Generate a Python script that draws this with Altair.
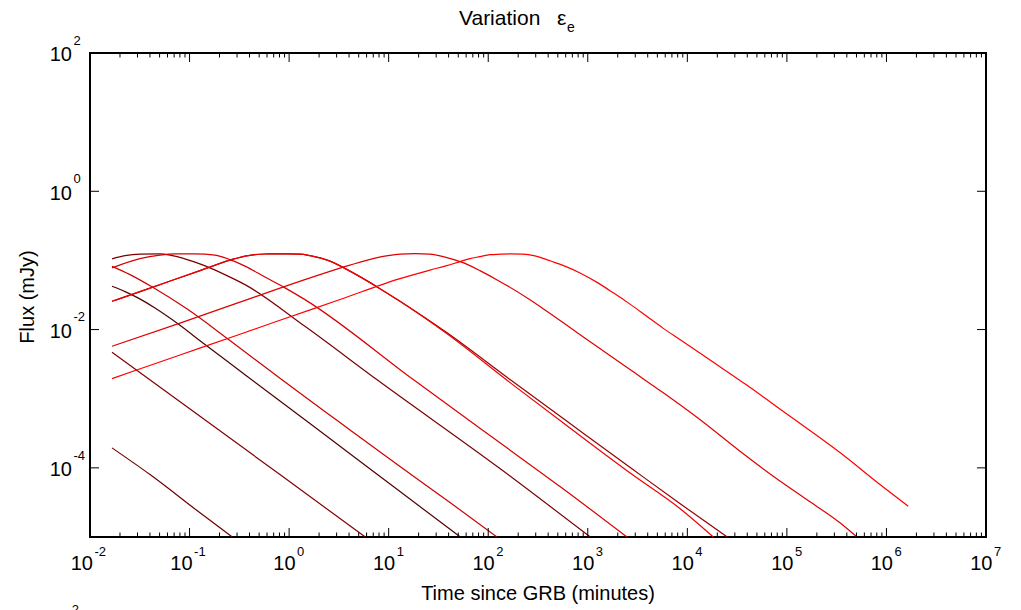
import altair as alt
import pandas as pd

# ---- curve data (log10 of time in minutes, log10 of flux in mJy)
curve_names = ["D448", "D353", "D287", "D267", "P1a", "P1b", "P2a", "P2b", "R3", "R4"]
curve_colors = ["#6e0000", "#820000", "#4f0000", "#cc0000", "#7a0000", "#d80000",
                "#990000", "#f00000", "#e00000", "#ff0000"]

lt_D448 = [-1.779, -1.397, -0.895, -0.574]
lf_D448 = [-3.711, -4.097, -4.650, -4.997]

lt_D353 = [-1.779, -0.895, -0.092, 0.762]
lf_D353 = [-2.328, -3.254, -4.097, -4.997]

lt_D287 = [-1.779, -1.648, -1.518, -1.347, -1.176, -0.845, -0.443, 0.109, 0.611, 1.114, 1.716]
lf_D287 = [-1.374, -1.451, -1.542, -1.689, -1.856, -2.215, -2.652, -3.251, -3.796, -4.342, -4.997]

lt_D267 = [-1.779, -1.598, -1.387, -1.016, -0.594, -0.075, 0.511, 1.114, 1.616, 2.085]
lf_D267 = [-1.085, -1.205, -1.374, -1.711, -2.159, -2.723, -3.345, -3.981, -4.501, -4.997]

lt_P1a = [-1.779, -1.648, -1.498, -1.297, -1.196, -1.079, -0.945, -0.778, -0.614, -0.443,
          0.159, 0.880, 2.118, 3.022]
lf_P1a = [-0.978, -0.931, -0.909, -0.906, -0.923, -0.964, -1.025, -1.118, -1.227, -1.350,
          -1.953, -2.723, -4.010, -4.997]

lt_P1b = [-1.779, -1.498, -1.297, -1.146, -0.945, -0.744, -0.594, -0.443, -0.242, -0.041, 0.159,
          1.247, 2.118, 2.721, 3.391]
lf_P1b = [-1.108, -0.974, -0.923, -0.906, -0.906, -0.923, -0.988, -1.082, -1.241, -1.397, -1.567,
          -2.723, -3.638, -4.270, -4.997]

lt_P2a = [-1.779, -1.397, -0.895, -0.544, -0.443, -0.343, -0.242, -0.142, -0.011, 0.109, 0.210,
          0.411, 0.611, 0.913, 1.114, 1.583, 2.219, 2.788, 3.454, 3.925, 4.398]
lf_P2a = [-1.591, -1.400, -1.147, -0.974, -0.938, -0.916, -0.907, -0.906, -0.906, -0.909, -0.931,
          -1.010, -1.155, -1.408, -1.591, -2.044, -2.723, -3.323, -4.024, -4.516, -4.997]

lt_P2b = [-1.779, -1.397, -0.895, -0.544, -0.443, -0.343, -0.242, -0.142, -0.011, 0.109, 0.210,
          0.411, 0.611, 0.913, 1.114, 1.583, 2.219, 2.788, 3.454, 3.925, 4.258]
lf_P2b = [-1.591, -1.400, -1.147, -0.974, -0.938, -0.916, -0.907, -0.906, -0.906, -0.909, -0.931,
          -1.010, -1.155, -1.408, -1.591, -2.058, -2.767, -3.388, -4.104, -4.588, -4.997]

lt_R3 = [-1.779, -1.096, -0.493, -0.092, 0.310, 0.611, 0.863, 0.993, 1.114, 1.264, 1.415, 1.566,
         1.746, 1.917, 2.085, 2.419, 2.751, 3.089, 3.424, 3.755, 4.126, 4.529, 4.863, 5.199,
         5.533, 5.701]
lf_R3 = [-2.242, -1.906, -1.603, -1.400, -1.205, -1.068, -0.967, -0.931, -0.909, -0.902, -0.909,
         -0.952, -1.032, -1.147, -1.278, -1.567, -1.899, -2.242, -2.579, -2.911, -3.301, -3.760,
         -4.121, -4.458, -4.795, -4.997]

lt_R4 = [-1.779, -1.096, -0.493, -0.092, 0.511, 1.114, 1.415, 1.583, 1.716, 1.817, 1.917, 2.018,
         2.118, 2.219, 2.349, 2.469, 2.587, 2.751, 2.922, 3.089, 3.253, 3.424, 3.592, 3.755,
         3.925, 4.258, 4.596, 5.014, 5.533, 5.935, 6.219]
lf_R4 = [-2.709, -2.368, -2.067, -1.866, -1.565, -1.263, -1.140, -1.075, -1.017, -0.974, -0.945,
         -0.916, -0.910, -0.906, -0.909, -0.935, -0.988, -1.072, -1.181, -1.314, -1.465, -1.632,
         -1.808, -1.979, -2.145, -2.470, -2.803, -3.236, -3.779, -4.241, -4.555]

curve_t = [lt_D448, lt_D353, lt_D287, lt_D267, lt_P1a, lt_P1b, lt_P2a, lt_P2b, lt_R3, lt_R4]
curve_f = [lf_D448, lf_D353, lf_D287, lf_D267, lf_P1a, lf_P1b, lf_P2a, lf_P2b, lf_R3, lf_R4]

# ---- axis ticks and labels
x_major = [-2, -1, 0, 1, 2, 3, 4, 5, 6, 7]
x_minor_mult = [2, 3, 4, 5, 6, 7, 8, 9]
y_major = [-4, -2, 0, 2]

title_word = "Variation"
title_greek = "\u03b5"
title_sub = "e"
x_title = "Time since GRB (minutes)"
y_title = "Flux (mJy)"

FONT = "Liberation Sans"
W, H = 896, 484

rows = []
for name, ts, fs in zip(curve_names, curve_t, curve_f):
    for i, (a, b) in enumerate(zip(ts, fs)):
        rows.append({"curve": name, "i": i, "t": 10 ** a, "F": 10 ** b})
df = pd.DataFrame(rows)

xs = alt.Scale(type="log", domain=[1e-2, 1e7])
ys = alt.Scale(type="log", domain=[1e-5, 1e2])

lines = alt.Chart(df).mark_line(strokeWidth=1.2, clip=True, interpolate="monotone").encode(
    x=alt.X("t:Q", scale=xs, axis=None),
    y=alt.Y("F:Q", scale=ys, axis=None),
    color=alt.Color("curve:N", scale=alt.Scale(domain=curve_names, range=curve_colors), legend=None),
    detail="curve:N",
    order="i:Q",
)

xmaj_df = pd.DataFrame({"v": [10.0 ** e for e in x_major]})
xmin_df = pd.DataFrame({"v": [m * 10.0 ** e for e in x_major[:-1] for m in x_minor_mult]})
ymaj_df = pd.DataFrame({"v": [10.0 ** e for e in y_major]})

tick_layers = []
for d, ln in [(xmaj_df, 9), (xmin_df, 4.5)]:
    tick_layers.append(alt.Chart(d).mark_rule(color="black", strokeWidth=1).encode(
        x=alt.X("v:Q", scale=xs, axis=None), y=alt.value(H), y2=alt.value(H - ln)))
    tick_layers.append(alt.Chart(d).mark_rule(color="black", strokeWidth=1).encode(
        x=alt.X("v:Q", scale=xs, axis=None), y=alt.value(0), y2=alt.value(ln)))
tick_layers.append(alt.Chart(ymaj_df).mark_rule(color="black", strokeWidth=1).encode(
    y=alt.Y("v:Q", scale=ys, axis=None), x=alt.value(0), x2=alt.value(9)))
tick_layers.append(alt.Chart(ymaj_df).mark_rule(color="black", strokeWidth=1).encode(
    y=alt.Y("v:Q", scale=ys, axis=None), x=alt.value(W), x2=alt.value(W - 9)))

# x labels
xl_neg = pd.DataFrame({"v": [10.0 ** e for e in x_major if e < 0],
                       "e": [str(e) for e in x_major if e < 0]})
xl_pos = pd.DataFrame({"v": [10.0 ** e for e in x_major if e >= 0],
                       "e": [str(e) for e in x_major if e >= 0]})
label_layers = []
for d, dx10 in [(xl_neg, 3), (xl_pos, 6.5)]:
    label_layers.append(alt.Chart(d).mark_text(
        text="10", font=FONT, fontSize=20, align="right", baseline="alphabetic",
        dx=dx10, dy=33).encode(x=alt.X("v:Q", scale=xs, axis=None), y=alt.value(H)))
    label_layers.append(alt.Chart(d).mark_text(
        font=FONT, fontSize=13, align="left", baseline="alphabetic",
        dx=dx10 + 1.5, dy=19).encode(x=alt.X("v:Q", scale=xs, axis=None), y=alt.value(H),
                                     text="e:N"))

yl = pd.DataFrame({"v": [10.0 ** e for e in y_major], "e": [str(e) for e in y_major]})
label_layers.append(alt.Chart(yl).mark_text(
    text="10", font=FONT, fontSize=20, align="right", baseline="alphabetic", dy=8.4).encode(
    y=alt.Y("v:Q", scale=ys, axis=None), x=alt.value(-18)))
label_layers.append(alt.Chart(yl).mark_text(
    font=FONT, fontSize=13, align="left", baseline="alphabetic", dy=-8.3).encode(
    y=alt.Y("v:Q", scale=ys, axis=None), x=alt.value(-16.5), text="e:N"))

title_df = pd.DataFrame({"a": [title_word], "g": [title_greek], "b": [title_sub],
                         "xt": [x_title], "yt": [y_title], "s": ["2"]})
base = alt.Chart(title_df)
texts = [
    base.mark_text(font=FONT, fontSize=21, align="left", baseline="alphabetic").encode(
        text="a:N", x=alt.value(369), y=alt.value(-28)),
    base.mark_text(font=FONT, fontSize=21, align="left", baseline="alphabetic").encode(
        text="g:N", x=alt.value(467), y=alt.value(-28)),
    base.mark_text(font=FONT, fontSize=14, align="left", baseline="alphabetic").encode(
        text="b:N", x=alt.value(477), y=alt.value(-21)),
    base.mark_text(font=FONT, fontSize=20, align="center", baseline="alphabetic").encode(
        text="xt:N", x=alt.value(W / 2), y=alt.value(H + 63)),
    base.mark_text(font=FONT, fontSize=20, align="center", baseline="middle", angle=270).encode(
        text="yt:N", x=alt.value(-62), y=alt.value(H / 2 + 2)),
    base.mark_text(font=FONT, fontSize=13, align="left", baseline="alphabetic").encode(
        text="s:N", x=alt.value(-18.3), y=alt.value(H + 77)),
]

chart = alt.layer(lines, *tick_layers, *label_layers, *texts).properties(
    width=W, height=H,
    padding={"left": 90, "top": 53, "right": 35, "bottom": 73},
    autosize=alt.AutoSizeParams(type="none"),
    background="white",
).configure_view(stroke="black", strokeWidth=2)

chart.save("out.html", embed_options={"renderer": "svg", "actions": False})
